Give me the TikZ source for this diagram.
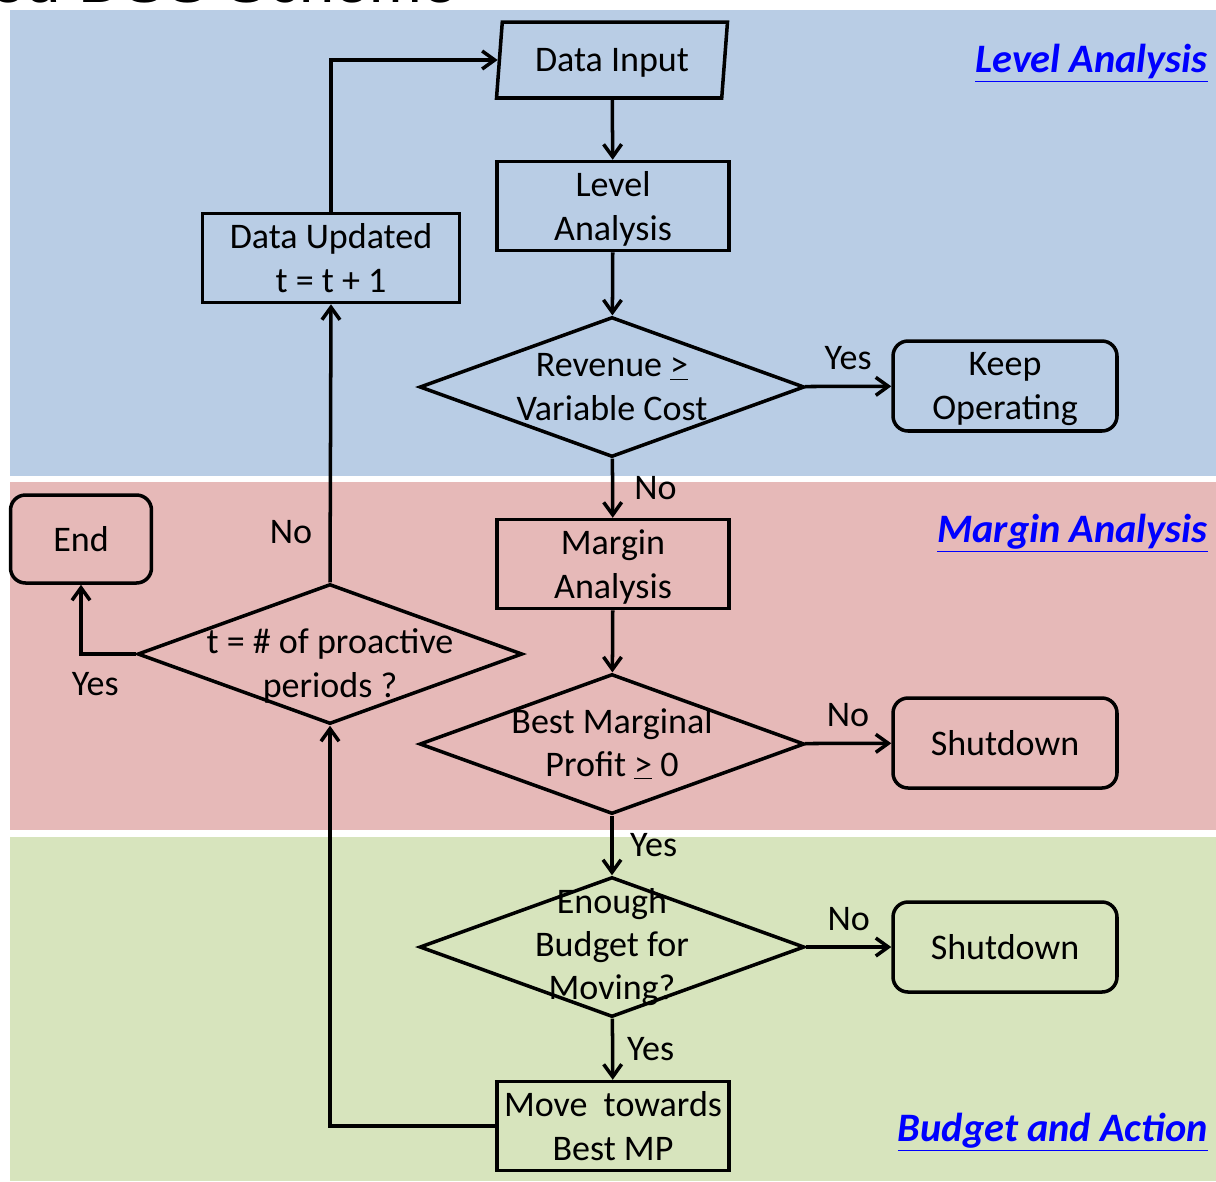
\documentclass[tikz,border=0pt]{standalone}
\usepackage{fontspec}
\setmainfont{Carlito}
\newfontfamily\titlefont{Liberation Sans}
\usetikzlibrary{shapes.geometric,arrows.meta}
\definecolor{levelblue}{HTML}{B9CDE5}
\definecolor{marginred}{HTML}{E6B9B8}
\definecolor{budgetgreen}{HTML}{D7E4BD}
\definecolor{tagblue}{HTML}{0000FF}
\tikzset{
  flowbox/.style={draw, line width=2pt, inner sep=0pt, align=center, text depth=0pt,
    minimum width=4.64cm, minimum height=1.78cm},
  endbox/.style={flowbox, rounded corners=0.3cm, minimum width=4.48cm, minimum height=1.8cm},
  decision/.style={draw, diamond, line width=2pt, inner sep=0pt,
    minimum width=7.7cm, minimum height=2.8cm},
  inputbox/.style={draw, trapezium, trapezium left angle=76, trapezium right angle=104,
    trapezium stretches body, line width=2pt, inner sep=0pt, text depth=0pt,
    minimum width=4.62cm, minimum height=1.52cm},
  flowline/.style={line width=2pt, -{Straight Barb[length=0.25cm, width=0.36cm, line width=2pt]}},
  tag/.style={text=tagblue, inner sep=0pt, font=\fontsize{23}{27}\selectfont\bfseries\itshape, anchor=east}
}
\begin{document}
\begin{tikzpicture}[x=0.02cm, y=-0.02cm, font=\fontsize{20.5}{24.6}\selectfont]
  \useasboundingbox (0,0) rectangle (1216,1181);
  \clip (0,0) rectangle (1216,1181);
  % bands
  \fill[levelblue] (10,10) rectangle (1216,476);
  \fill[marginred] (10,482) rectangle (1216,830);
  \fill[budgetgreen] (10,837) rectangle (1216,1181);
  \node[anchor=base west, inner sep=0pt, font=\titlefont\fontsize{36}{42}\selectfont] at (-10,2) {ed DSS Scheme};

  % level analysis
  \node[inputbox] (input) at (612,60) {Data Input};
  \node[flowbox] (level) at (613,206) {Level\\Analysis};
  \node[decision, label={[align=center]center:Revenue \underline{>}\\Variable Cost}] (revenue) at (612,387) {};
  \node[endbox] (keep) at (1005,386) {Keep\\Operating};
  \node[flowbox, minimum width=5.14cm] (updated) at (331,258) {Data Updated\\t = t + 1};

  % margin analysis
  \node[flowbox] (margin) at (613,564) {Margin\\Analysis};
  \node[decision, label={[align=center]center:Best Marginal\\Profit \underline{>} 0}] (profit) at (612,744) {};
  \node[endbox] (shutA) at (1005,743) {Shutdown};
  \node[decision, label={[align=center, yshift=-0.24cm]center:t = \# of proactive\\periods ?}] (periods) at (330,654) {};
  \node[endbox, minimum width=2.82cm, minimum height=1.76cm] (end) at (81,539) {End};

  % budget and action
  \node[decision, label={[align=center]center:Enough\\Budget for\\Moving?}] (budget) at (612,947) {};
  \node[endbox] (shutB) at (1005,947) {Shutdown};
  \node[flowbox] (move) at (613,1126) {Move~ towards\\Best MP};

  % connectors
  \draw[flowline] (input) -- (level);
  \draw[flowline] (level) -- (revenue);
  \draw[flowline] (revenue) -- node[above=5pt] {Yes} (keep);
  \draw[flowline] (revenue) -- node[right=8pt] {No} (margin);
  \draw[flowline] (margin) -- (profit);
  \draw[flowline] (profit) -- node[above=5pt] {No} (shutA);
  \draw[flowline] (profit) -- node[right=6pt] {Yes} (budget);
  \draw[flowline] (budget) -- node[above=5pt] {No} (shutB);
  \draw[flowline] (budget) -- node[right=4pt] {Yes} (move);
  \draw[flowline] (move.west) -| (periods.south);
  \draw[flowline] (periods.north) -- node[left=6pt, pos=0.18] {No} (updated.south);
  \draw[flowline] (periods.west) -| node[below=6pt, pos=0.37] {Yes} (end.south);
  \draw[flowline] (updated.north) |- (input.west);

  % section tags
  \node[tag] at (1208,63) {\underline{Level Analysis}};
  \node[tag] at (1208,533) {\underline{Margin Analysis}};
  \node[tag] at (1208,1132) {\underline{Budget and Action}};
\end{tikzpicture}
\end{document}
